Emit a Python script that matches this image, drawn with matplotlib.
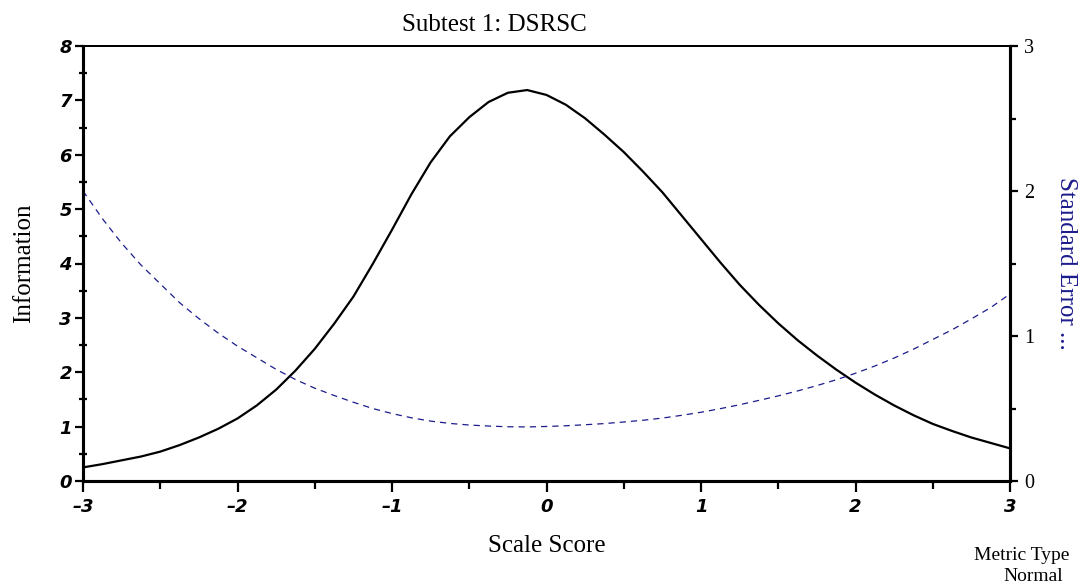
import matplotlib
matplotlib.use("Agg")
import matplotlib.pyplot as plt
from matplotlib.ticker import MultipleLocator

# values (every 0.125 on the scale)
scale_score = [-3.0, -2.875, -2.75, -2.625, -2.5, -2.375, -2.25, -2.125,
               -2.0, -1.875, -1.75, -1.625, -1.5, -1.375, -1.25, -1.125,
               -1.0, -0.875, -0.75, -0.625, -0.5, -0.375, -0.25, -0.125,
               0.0, 0.125, 0.25, 0.375, 0.5, 0.625, 0.75, 0.875,
               1.0, 1.125, 1.25, 1.375, 1.5, 1.625, 1.75, 1.875,
               2.0, 2.125, 2.25, 2.375, 2.5, 2.625, 2.75, 2.875, 3.0]
information = [0.25, 0.31, 0.38, 0.45, 0.54, 0.66, 0.80, 0.96,
               1.15, 1.39, 1.68, 2.03, 2.43, 2.89, 3.39, 3.99,
               4.62, 5.27, 5.86, 6.34, 6.69, 6.97, 7.14, 7.19,
               7.10, 6.92, 6.67, 6.37, 6.05, 5.69, 5.31, 4.88,
               4.45, 4.02, 3.61, 3.24, 2.90, 2.59, 2.31, 2.05,
               1.81, 1.59, 1.39, 1.21, 1.05, 0.92, 0.80, 0.70, 0.60]
std_error = [2.00, 1.81, 1.64, 1.49, 1.36, 1.23, 1.12, 1.02,
             0.93, 0.85, 0.77, 0.70, 0.64, 0.59, 0.543, 0.50,
             0.465, 0.436, 0.413, 0.397, 0.386, 0.379, 0.374, 0.373,
             0.376, 0.381, 0.388, 0.396, 0.407, 0.419, 0.434, 0.453,
             0.474, 0.499, 0.526, 0.556, 0.587, 0.621, 0.658, 0.698,
             0.743, 0.793, 0.848, 0.909, 0.976, 1.043, 1.118, 1.196, 1.29]
x_ticks = [-3, -2, -1, 0, 1, 2, 3]
info_ticks = [0, 1, 2, 3, 4, 5, 6, 7, 8]
se_ticks = [0, 1, 2, 3]

serif = "Liberation Serif"
navy = "#1c1c8c"

fig = plt.figure(figsize=(10.84, 5.85), dpi=100)
W, H = 1084, 585
ax = fig.add_axes([83 / W, (H - 481) / H, (1010 - 83) / W, (481 - 46) / H])
ax2 = ax.twinx()

ax.plot(scale_score, information, color="black", lw=1.6, zorder=3,
        solid_joinstyle="round")
ax2.plot(scale_score, std_error, color=navy, lw=0.9, linestyle=(0, (5, 4)))

ax.set_xlim(-3, 3)
ax.set_ylim(0, 8)
ax2.set_ylim(0, 3)

ax.set_xticks(x_ticks)
ax.set_yticks(info_ticks)
ax2.set_yticks(se_ticks)
ax.xaxis.set_minor_locator(MultipleLocator(0.5))
ax.yaxis.set_minor_locator(MultipleLocator(0.5))
ax2.yaxis.set_minor_locator(MultipleLocator(0.5))

tick_font = dict(family="DejaVu Sans", weight="bold", style="oblique", size=13)
ax.set_xticklabels([str(v).replace("-", "\u2013") for v in x_ticks], fontdict=tick_font)
ax.set_yticklabels([str(v) for v in info_ticks], fontdict=tick_font)
ax2.set_yticklabels([str(v) for v in se_ticks], family=serif, size=14.5)

for a in (ax, ax2):
    for side in ("left", "bottom", "right"):
        a.spines[side].set_linewidth(2.2)
    a.spines["top"].set_linewidth(1.4)

ax.tick_params(axis="x", which="major", direction="out", length=8, width=1.6, pad=4)
ax.tick_params(axis="x", which="minor", direction="out", length=5.5, width=1.6)
ax.tick_params(axis="y", which="major", direction="out", length=6, width=1.6, pad=2)
ax.tick_params(axis="y", which="minor", direction="inout", length=6, width=1.6)
ax2.tick_params(axis="y", which="major", direction="out", length=6, width=1.6, pad=4)
ax2.tick_params(axis="y", which="minor", direction="out", length=4, width=1.6)

ax.set_xlabel("Scale Score", family=serif, size=18, labelpad=14)
ax.set_ylabel("Information", family=serif, size=18)
ax.yaxis.set_label_coords(-0.052, 0.5)
ax2.set_ylabel("Standard Error ...", family=serif, size=18, color=navy,
               rotation=270, labelpad=31)

fig.text(494 / W, (H - 31) / H, "Subtest 1: DSRSC", family=serif, size=18,
         ha="center", va="baseline")
fig.text(1069 / W, (H - 560) / H, "Metric Type", family=serif, size=14,
         ha="right", va="baseline")
fig.text(1063 / W, (H - 581) / H, "Normal", family=serif, size=14,
         ha="right", va="baseline")

fig.savefig("out.png", dpi=100)
